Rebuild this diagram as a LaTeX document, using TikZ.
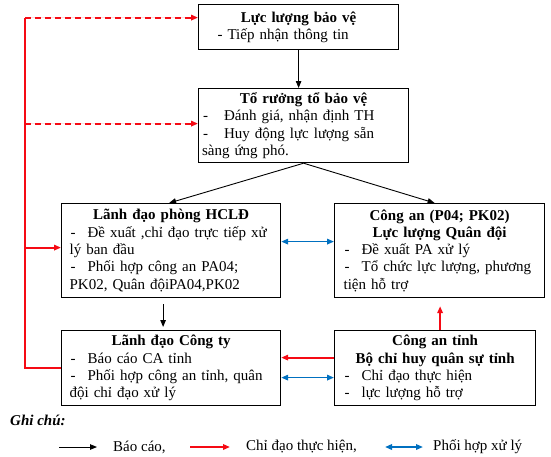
\documentclass[tikz,border=0pt]{standalone}
\usepackage{fontspec}
\setmainfont{Liberation Serif}
\usetikzlibrary{arrows.meta,calc}
\setlength{\parindent}{0pt}
\definecolor{chired}{RGB}{245,10,20}
\definecolor{phblue}{RGB}{0,112,192}
\newcommand\itm[1][18pt]{\makebox[#1][l]{\hspace{1pt}-}}

\begin{document}
\begin{tikzpicture}[x=1pt,y=-1pt,
      >={Triangle[length=7pt,width=5.5pt]},
      hop/.style={draw,line width=1.2pt,anchor=north west,align=left,
        inner xsep=8pt,inner ysep=0pt,font=\fontsize{15}{17.3}\selectfont},
      bc/.style={->,line width=0.9pt},
      cd/.style={->,draw=chired,fill=chired,line width=1.9pt},
      ph/.style={<->,draw=phblue,fill=phblue,line width=1.7pt},
      lg/.style={inner sep=0pt,anchor=west,font=\fontsize{15}{17.3}\selectfont}]
  \useasboundingbox (0,0) rectangle (551,456);
  % cac o
  \node[hop,text width=192pt,minimum height=45pt,inner xsep=4pt] (lucluong) at (198,4)
    {{\centering\bfseries Lực lượng bảo vệ\par}\hspace*{15pt}- Tiếp nhận thông tin};
  \node[hop,text width=203pt,minimum height=74pt,inner xsep=3.5pt] (toruong) at (198,88)
    {{\centering\bfseries Tổ rưởng tổ bảo vệ\par}\itm[22pt]Đánh giá, nhận định TH\\
     \itm[22pt]Huy động lực lượng sẵn\\sàng ứng phó.};
  \node[hop,text width=203pt,minimum height=94pt] (hcld) at (61,203)
    {{\centering\bfseries Lãnh đạo phòng HCLĐ\par}\itm Đề xuất ,chỉ đạo trực tiếp xử\\
     lý ban đầu\\\itm Phối hợp công an PA04;\\PK02, Quân độiPA04,PK02};
  \node[hop,text width=192pt,minimum height=94pt,inner xsep=9pt] (congan) at (334,203)
    {{\centering\bfseries Công an (P04; PK02)\\Lực lượng Quân đội\par}\itm Đề xuất PA xử lý\\
     \itm Tổ chức lực lượng, phương\\tiện hỗ trợ};
  \node[hop,text width=203pt,minimum height=75pt] (congty) at (61,330)
    {{\centering\bfseries Lãnh đạo Công ty\par}\itm Báo cáo CA tỉnh\\
     \itm Phối hợp công an tỉnh, quân\\đội chỉ đạo xử lý};
  \node[hop,text width=183pt,minimum height=75pt,inner xsep=9pt] (catinh) at (334,330)
    {{\centering\bfseries Công an tỉnh\\Bộ chỉ huy quân sự tỉnh\par}\itm Chỉ đạo thực hiện\\
     \itm lực lượng hỗ trợ};
  % bao cao
  \draw[bc] (lucluong.south) -- (lucluong.south |- toruong.north);
  \draw[bc] (toruong.south) -- ([xshift=-2pt]hcld.north);
  \draw[bc] (toruong.south) -- ([xshift=-5pt]congan.north);
  \draw[bc,shorten <=6pt,shorten >=3pt] ([xshift=-8pt]hcld.south) -- ([xshift=-8pt]congty.north);
  % chi dao
  \coordinate (trai) at (25,0);
  \coordinate (d1) at ([yshift=9.5pt]lucluong.west);
  \coordinate (d2) at ([yshift=2pt]toruong.west);
  \coordinate (d3) at ([yshift=3pt]hcld.west);
  \coordinate (d4) at ([yshift=0.5pt]congty.west);
  \draw[draw=chired,line width=1.9pt] (d4) -- (d4 -| trai) -- (trai |- d1);
  \draw[cd,dash pattern=on 6pt off 4pt] (trai |- d1) -- (d1);
  \draw[cd,dash pattern=on 6pt off 4pt] (trai |- d2) -- (d2);
  \draw[cd] (trai |- d3) -- (d3);
  \draw[cd,shorten >=8pt] ([xshift=5pt]catinh.north) -- ([xshift=5pt]catinh.north |- congan.south);
  \coordinate (c1) at ([yshift=10.5pt]catinh.west);
  \draw[cd] (c1) -- (c1 -| congty.east);
  % phoi hop
  \coordinate (p1) at ([yshift=9pt]congan.west);
  \draw[ph] (p1) -- (p1 -| hcld.east);
  \coordinate (p2) at ([yshift=-9.5pt]catinh.west);
  \draw[ph] (p2) -- (p2 -| congty.east);
  % ghi chu
  \node[lg,anchor=base west,font=\fontsize{15}{17.3}\selectfont\bfseries\itshape] (ghichu) at (10,425) {Ghi chú:};
  \node[lg] (lgbc) at (113,447) {Báo cáo,};
  \node[lg] (lgcd) at (246,447) {Chỉ đạo thực hiện,};
  \node[lg] (lgph) at (433,447) {Phối hợp xử lý};
  \draw[bc] ([xshift=-54pt]lgbc.west) -- ([xshift=-16pt]lgbc.west);
  \draw[cd] ([xshift=-56pt]lgcd.west) -- ([xshift=-16pt]lgcd.west);
  \draw[ph] ([xshift=-48pt]lgph.west) -- ([xshift=-10pt]lgph.west);
\end{tikzpicture}
\end{document}
